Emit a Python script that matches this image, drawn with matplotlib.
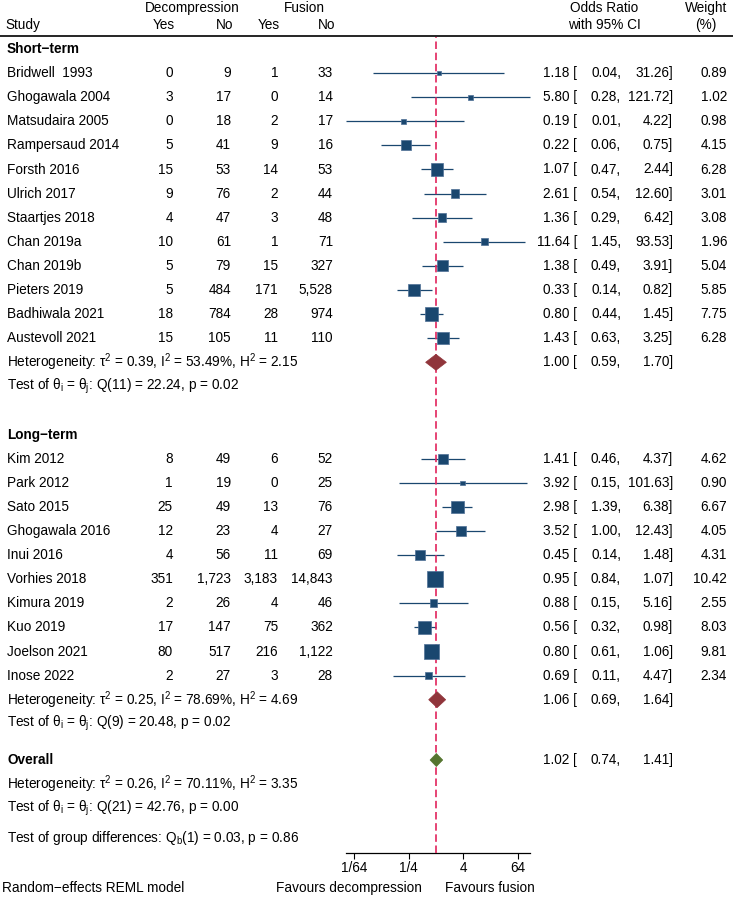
import numpy as np
import matplotlib; matplotlib.use("Agg")
import matplotlib.pyplot as plt
from matplotlib.patches import Polygon

plt.rcParams["font.family"] = ["Liberation Sans", "DejaVu Sans"]
plt.rcParams["mathtext.fontset"] = "custom"
plt.rcParams["mathtext.rm"] = "Liberation Sans"
plt.rcParams["mathtext.it"] = "Liberation Sans:italic"

# ---- data -------------------------------------------------------------
short_names = ["Bridwell  1993", "Ghogawala 2004", "Matsudaira 2005", "Rampersaud 2014",
               "Forsth 2016", "Ulrich 2017", "Staartjes 2018", "Chan 2019a", "Chan 2019b",
               "Pieters 2019", "Badhiwala 2021", "Austevoll 2021"]
short_dec_yes = [0, 3, 0, 5, 15, 9, 4, 10, 5, 5, 18, 15]
short_dec_no  = [9, 17, 18, 41, 53, 76, 47, 61, 79, 484, 784, 105]
short_fus_yes = [1, 0, 2, 9, 14, 2, 3, 1, 15, 171, 28, 11]
short_fus_no  = [33, 14, 17, 16, 53, 44, 48, 71, 327, 5528, 974, 110]
short_or  = [1.18, 5.80, 0.19, 0.22, 1.07, 2.61, 1.36, 11.64, 1.38, 0.33, 0.80, 1.43]
short_lo  = [0.04, 0.28, 0.01, 0.06, 0.47, 0.54, 0.29, 1.45, 0.49, 0.14, 0.44, 0.63]
short_hi  = [31.26, 121.72, 4.22, 0.75, 2.44, 12.60, 6.42, 93.53, 3.91, 0.82, 1.45, 3.25]
short_w   = [0.89, 1.02, 0.98, 4.15, 6.28, 3.01, 3.08, 1.96, 5.04, 5.85, 7.75, 6.28]
short_pool = (1.00, 0.59, 1.70)
short_het = r"Heterogeneity: τ$^\mathrm{2}$ = 0.39, I$^\mathrm{2}$ = 53.49%, H$^\mathrm{2}$ = 2.15"
short_test = r"Test of θ$_\mathrm{i}$ = θ$_\mathrm{j}$: Q(11) = 22.24, p = 0.02"

long_names = ["Kim 2012", "Park 2012", "Sato 2015", "Ghogawala 2016", "Inui 2016",
              "Vorhies 2018", "Kimura 2019", "Kuo 2019", "Joelson 2021", "Inose 2022"]
long_dec_yes = [8, 1, 25, 12, 4, 351, 2, 17, 80, 2]
long_dec_no  = [49, 19, 49, 23, 56, 1723, 26, 147, 517, 27]
long_fus_yes = [6, 0, 13, 4, 11, 3183, 4, 75, 216, 3]
long_fus_no  = [52, 25, 76, 27, 69, 14843, 46, 362, 1122, 28]
long_or  = [1.41, 3.92, 2.98, 3.52, 0.45, 0.95, 0.88, 0.56, 0.80, 0.69]
long_lo  = [0.46, 0.15, 1.39, 1.00, 0.14, 0.84, 0.15, 0.32, 0.61, 0.11]
long_hi  = [4.37, 101.63, 6.38, 12.43, 1.48, 1.07, 5.16, 0.98, 1.06, 4.47]
long_w   = [4.62, 0.90, 6.67, 4.05, 4.31, 10.42, 2.55, 8.03, 9.81, 2.34]
long_pool = (1.06, 0.69, 1.64)
long_het = r"Heterogeneity: τ$^\mathrm{2}$ = 0.25, I$^\mathrm{2}$ = 78.69%, H$^\mathrm{2}$ = 4.69"
long_test = r"Test of θ$_\mathrm{i}$ = θ$_\mathrm{j}$: Q(9) = 20.48, p = 0.02"

overall_pool = (1.02, 0.74, 1.41)
overall_het = r"Heterogeneity: τ$^\mathrm{2}$ = 0.26, I$^\mathrm{2}$ = 70.11%, H$^\mathrm{2}$ = 3.35"
overall_test = r"Test of θ$_\mathrm{i}$ = θ$_\mathrm{j}$: Q(21) = 42.76, p = 0.00"
group_test = r"Test of group differences: Q$_\mathrm{b}$(1) = 0.03, p = 0.86"

tick_vals = [1/64, 1/4, 4, 64]
tick_labels = ["1/64", "1/4", "4", "64"]

# ---- layout (pixels of a 733x897 canvas) -------------------------------
W, H = 733, 897
Y0, DY = 49, 24.1           # first row centre, row pitch
FS = 9.8
NAVY, MAROON, GREEN, RED = "#1a476f", "#90353b", "#55752f", "#e2245c"
X_STUDY, X_C = 7, [173, 231, 278, 333]
X_EST, X_LO, X_HI, X_W = 577, 621, 673, 727
AX_L, AX_R, AX_TOP, AX_BOT = 345.6, 530.2, 37, 853


def row(px):
    return (px - Y0) / DY


fig = plt.figure(figsize=(W / 100, H / 100), dpi=100)
ax = fig.add_axes([0, 0, 1, 1])
ax.set_xlim(0, W)
ax.set_ylim(row(H), row(0))
ax.axis("off")

all_lo = short_lo + long_lo
all_hi = short_hi + long_hi
axf = fig.add_axes([AX_L / W, (H - AX_BOT) / H, (AX_R - AX_L) / W, (AX_BOT - AX_TOP) / H])
axf.set_xscale("log", base=2)
axf.set_xlim(min(all_lo), max(all_hi))
axf.set_ylim(row(AX_BOT), row(AX_TOP))
axf.patch.set_alpha(0)
for s in ["top", "left", "right"]:
    axf.spines[s].set_visible(False)
axf.spines["bottom"].set_linewidth(0.9)
axf.set_yticks([])
axf.set_xticks(tick_vals)
axf.set_xticklabels(tick_labels, fontsize=FS)
axf.minorticks_off()
axf.tick_params(axis="x", length=4, width=0.8, pad=2)

# header
ax.text(192, row(8), "Decompression", ha="center", va="center", fontsize=FS)
ax.text(304, row(8), "Fusion", ha="center", va="center", fontsize=FS)
ax.text(X_STUDY - 2, row(25), "Study", ha="left", va="center", fontsize=FS)
for x, lab in zip(X_C, ["Yes", "No", "Yes", "No"]):
    ax.text(x + 2, row(25), lab, ha="right", va="center", fontsize=FS)
ax.text(604, row(8), "Odds Ratio", ha="center", va="center", fontsize=FS)
ax.text(604, row(25), "with 95% CI", ha="center", va="center", fontsize=FS)
ax.text(706, row(8), "Weight", ha="center", va="center", fontsize=FS)
ax.text(706, row(25), "(%)", ha="center", va="center", fontsize=FS)
ax.axhline(row(36), color="black", lw=1.2)


def est_text(y, o, lo, hi, w=None):
    ax.text(X_EST, y, f"{o:.2f} [", ha="right", va="center", fontsize=FS)
    ax.text(X_LO, y, f"{lo:.2f},", ha="right", va="center", fontsize=FS)
    ax.text(X_HI, y, f"{hi:.2f}]", ha="right", va="center", fontsize=FS)
    if w is not None:
        ax.text(X_W, y, f"{w:.2f}", ha="right", va="center", fontsize=FS)


def diamond(y, pool, color, h):
    o, lo, hi = pool
    axf.add_patch(Polygon([(lo, y), (o, y - h), (hi, y), (o, y + h)], closed=True,
                          facecolor=color, edgecolor=color, lw=0.5, zorder=4, clip_on=False))


def group(start, title, names, dy, dn, fy, fn, ors, los, his, ws, pool, het, test):
    ax.text(X_STUDY, start, title, ha="left", va="center", fontsize=FS, fontweight="bold")
    ys = start + 1 + np.arange(len(names))
    for i, y in enumerate(ys):
        ax.text(X_STUDY, y, names[i], ha="left", va="center", fontsize=FS)
        for x, n in zip(X_C, [dy[i], dn[i], fy[i], fn[i]]):
            ax.text(x, y, f"{n:,}", ha="right", va="center", fontsize=FS)
        est_text(y, ors[i], los[i], his[i], ws[i])
    axf.hlines(ys, los, his, color=NAVY, lw=0.9, zorder=2, clip_on=False)
    axf.scatter(ors, ys, s=np.array(ws) * 12, marker="s", color=NAVY,
                edgecolor="#4f7096", linewidths=0.5, zorder=4, clip_on=False)
    yh = ys[-1] + 1
    ax.text(X_STUDY, yh, het, ha="left", va="center", fontsize=FS)
    ax.text(X_STUDY, yh + 1, test, ha="left", va="center", fontsize=FS)
    est_text(yh, *pool)
    diamond(yh, pool, MAROON, 0.33)


group(0, "Short−term", short_names, short_dec_yes, short_dec_no, short_fus_yes, short_fus_no,
      short_or, short_lo, short_hi, short_w, short_pool, short_het, short_test)
group(16, "Long−term", long_names, long_dec_yes, long_dec_no, long_fus_yes, long_fus_no,
      long_or, long_lo, long_hi, long_w, long_pool, long_het, long_test)

# overall
y_ov = row(760)
ax.text(X_STUDY, y_ov, "Overall", ha="left", va="center", fontsize=FS, fontweight="bold")
ax.text(X_STUDY, y_ov + 1, overall_het, ha="left", va="center", fontsize=FS)
ax.text(X_STUDY, y_ov + 2, overall_test, ha="left", va="center", fontsize=FS)
ax.text(X_STUDY, row(838), group_test, ha="left", va="center", fontsize=FS)
est_text(y_ov, *overall_pool)
diamond(y_ov, overall_pool, GREEN, 0.27)

axf.axvline(overall_pool[0], color=RED, lw=1.2, dashes=(4.5, 2.2), zorder=3)

# footer
ax.text(2, row(888), "Random−effects REML model", ha="left", va="center", fontsize=FS)
ax.text(422, row(888), "Favours decompression", ha="right", va="center", fontsize=FS)
ax.text(445, row(888), "Favours fusion", ha="left", va="center", fontsize=FS)

fig.savefig("out.png", dpi=100)
